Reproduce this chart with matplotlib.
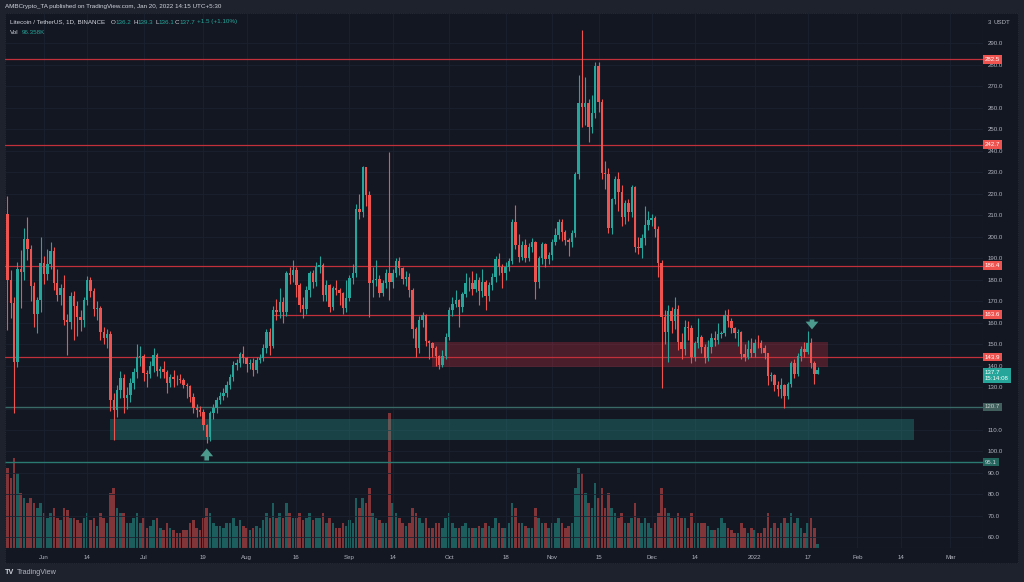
import numpy as np
import pandas as pd
import matplotlib
matplotlib.use('Agg')
import matplotlib.pyplot as plt
import matplotlib.transforms as mtransforms
from matplotlib.patches import Rectangle

# --- data (LTC/USDT daily, Binance) ---
start_date = pd.Timestamp('2021-05-21')
first_open = 210.4

closes = [
    179.7, 168.9, 141.8, 184.9, 183.6, 198.7, 194.0, 177.0, 163.9, 170.4,
    187.5, 182.8, 187.2, 193.2, 178.2, 172.8, 175.9, 161.4, 160.4, 172.3,
    167.8, 162.4, 161.4, 170.4, 179.7, 174.8, 166.3, 166.6, 155.7, 152.6,
    154.6, 123.9, 119.3, 128.6, 134.0, 124.7, 126.3, 131.7, 137.1, 143.8,
    144.5, 136.4, 136.0, 139.8, 144.9, 137.5, 138.3, 137.2, 131.7, 134.5,
    133.9, 133.6, 133.3, 131.0, 130.5, 125.5, 120.1, 119.3, 118.6, 112.4,
    106.9, 117.8, 120.1, 124.0, 125.8, 127.4, 131.0, 134.8, 140.3, 141.3,
    145.2, 143.4, 140.7, 141.0, 138.0, 142.6, 143.4, 148.0, 155.8, 149.1,
    166.0, 165.1, 169.7, 165.1, 182.9, 182.1, 184.4, 177.5, 168.2, 166.1,
    175.1, 183.2, 179.0, 186.0, 186.8, 172.8, 177.5, 167.4, 175.9, 175.1,
    173.6, 166.6, 171.3, 180.6, 182.9, 212.7, 211.6, 232.2, 219.3, 178.2,
    180.0, 180.3, 173.9, 178.2, 182.9, 179.0, 182.9, 188.8, 185.2, 180.1,
    181.0, 175.1, 156.8, 148.0, 161.1, 163.5, 151.5, 150.3, 148.0, 144.4,
    140.2, 144.4, 153.4, 165.8, 168.6, 170.4, 167.0, 173.2, 178.2, 178.5,
    175.4, 179.7, 174.8, 179.0, 172.3, 177.4, 181.0, 189.4, 185.6, 183.2,
    185.6, 188.7, 206.9, 196.0, 190.6, 196.0, 190.0, 195.2, 197.6, 179.0,
    189.8, 196.5, 189.4, 191.4, 197.6, 200.7, 206.9, 202.3, 198.4, 197.6,
    201.5, 229.1, 261.9, 260.1, 262.0, 251.1, 257.6, 279.3, 262.7, 229.7,
    229.1, 203.8, 217.3, 226.6, 220.9, 208.9, 215.7, 211.6, 222.9, 195.3,
    194.5, 199.1, 205.3, 207.7, 208.5, 203.3, 187.5, 162.5, 155.8, 165.5,
    160.5, 166.5, 151.1, 147.5, 158.0, 157.6, 144.1, 150.3, 153.4, 148.4,
    143.3, 148.4, 152.6, 152.1, 154.6, 154.9, 163.5, 160.8, 157.3, 155.2,
    155.7, 145.3, 144.1, 147.5, 145.6, 150.6, 150.3, 148.0, 145.6, 135.1,
    135.5, 130.9, 128.9, 130.9, 125.8, 131.4, 141.3, 136.0, 144.4, 147.5,
    146.4, 150.6, 141.0, 136.2, 137.7]

highs = [
    218.8, 184.4, 172.0, 188.0, 193.7, 203.8, 208.9, 196.0, 179.0, 172.0,
    200.0, 191.0, 194.0, 197.6, 195.0, 185.0, 178.0, 182.0, 164.0, 174.0,
    174.5, 170.0, 166.0, 172.0, 181.5, 181.0, 176.0, 170.0, 167.5, 158.0,
    157.0, 156.0, 127.0, 131.0, 137.5, 136.0, 130.0, 134.0, 139.0, 150.0,
    149.0, 145.5, 138.0, 142.0, 148.0, 146.0, 140.0, 142.0, 138.0, 136.0,
    138.0, 135.5, 136.0, 134.0, 132.0, 131.0, 127.0, 122.0, 121.0, 120.0,
    113.0, 119.0, 122.0, 125.5, 127.5, 129.5, 133.0, 136.0, 142.0, 143.0,
    146.5, 149.0, 144.0, 143.0, 143.5, 144.0, 145.5, 150.0, 157.0, 157.5,
    167.5, 171.0, 176.0, 172.0, 184.0, 186.0, 189.0, 186.0, 178.5, 172.0,
    177.0, 184.0, 184.5, 188.0, 191.0, 187.5, 180.0, 178.0, 177.0, 180.0,
    176.0, 174.0, 180.0, 182.0, 187.0, 215.0, 220.0, 233.0, 232.5, 221.0,
    186.0, 189.0, 182.0, 180.0, 185.0, 239.5, 185.0, 190.0, 190.5, 186.0,
    184.0, 183.0, 176.0, 158.0, 163.0, 165.0, 164.0, 152.0, 151.0, 149.0,
    145.0, 147.0, 155.0, 167.0, 172.0, 175.0, 171.0, 174.0, 183.0, 181.0,
    184.0, 183.0, 181.0, 185.0, 180.0, 179.0, 183.0, 191.0, 192.5, 187.0,
    188.0, 190.0, 208.0, 214.6, 201.0, 198.0, 199.0, 197.0, 199.5, 198.0,
    191.0, 197.5, 197.0, 193.0, 199.0, 204.0, 208.0, 208.0, 203.0, 199.5,
    203.0, 230.0, 275.0, 296.0, 274.0, 264.0, 266.0, 281.3, 281.0, 264.0,
    235.0, 232.0, 218.0, 228.0, 230.0, 224.0, 217.0, 217.5, 224.0, 223.5,
    200.0, 201.0, 214.0, 212.0, 210.5, 209.5, 205.0, 189.0, 166.0, 168.0,
    167.0, 172.0, 168.0, 155.0, 161.0, 160.5, 159.0, 151.5, 162.0, 154.0,
    150.0, 152.0, 155.0, 156.0, 160.0, 156.0, 166.0, 166.5, 162.0, 158.0,
    157.0, 156.0, 150.0, 152.0, 153.0, 152.5, 154.0, 152.0, 149.5, 146.0,
    137.0, 136.0, 133.0, 134.0, 131.5, 132.5, 142.0, 143.0, 146.0, 149.0,
    151.0, 156.0, 153.0, 142.0, 139.3]

lows = [
    156.5, 161.9, 117.7, 139.4, 166.6, 180.0, 189.0, 170.0, 158.0, 155.0,
    165.0, 178.0, 180.0, 185.0, 175.0, 170.0, 168.0, 159.0, 144.9, 157.0,
    151.8, 153.9, 156.0, 158.0, 168.0, 172.0, 163.0, 161.0, 152.0, 150.0,
    148.0, 119.0, 105.3, 116.0, 125.0, 118.0, 120.0, 123.0, 129.0, 134.0,
    140.0, 133.0, 130.0, 134.0, 137.0, 135.0, 134.0, 134.0, 127.0, 130.0,
    130.0, 131.0, 132.0, 129.5, 125.0, 123.0, 118.0, 116.0, 116.5, 110.0,
    103.8, 105.0, 115.0, 118.0, 122.0, 124.0, 125.5, 129.0, 133.0, 138.0,
    139.5, 141.0, 137.0, 138.5, 135.0, 136.5, 141.0, 142.0, 146.0, 145.0,
    148.0, 161.0, 162.0, 160.0, 163.0, 178.0, 179.0, 172.0, 165.0, 162.0,
    164.0, 172.0, 176.0, 177.0, 183.0, 170.0, 170.0, 165.0, 166.0, 173.0,
    168.0, 164.0, 165.0, 170.0, 178.0, 181.0, 208.0, 209.0, 214.0, 162.5,
    172.0, 177.0, 172.0, 172.5, 176.0, 170.5, 176.0, 181.0, 182.0, 178.0,
    177.0, 172.0, 153.0, 144.0, 146.0, 158.0, 149.0, 143.0, 144.0, 140.0,
    138.5, 139.5, 143.0, 152.0, 163.0, 167.0, 158.0, 165.0, 172.0, 174.5,
    173.0, 174.0, 168.0, 172.0, 166.0, 170.0, 175.0, 179.0, 182.0, 176.0,
    180.0, 184.0, 187.0, 194.0, 188.0, 189.0, 188.0, 188.5, 193.0, 171.0,
    176.0, 187.0, 186.0, 187.0, 189.0, 196.0, 199.0, 198.0, 196.0, 191.0,
    195.0, 200.0, 227.0, 251.0, 252.0, 244.0, 248.0, 255.0, 258.0, 227.0,
    222.0, 201.5, 201.0, 215.0, 212.0, 205.0, 206.0, 207.0, 209.0, 193.0,
    192.0, 190.0, 196.0, 203.0, 205.0, 200.0, 181.0, 129.5, 150.0, 141.8,
    155.0, 157.0, 147.0, 143.0, 145.0, 152.0, 141.0, 142.0, 148.0, 146.0,
    141.0, 142.0, 146.0, 149.0, 150.0, 153.0, 153.5, 158.0, 155.0, 153.0,
    149.0, 143.0, 142.0, 143.0, 144.0, 144.0, 148.0, 146.0, 143.0, 131.0,
    133.0, 128.0, 126.0, 125.0, 120.2, 124.5, 130.0, 134.0, 135.0, 142.0,
    144.0, 145.5, 139.0, 131.5, 136.1]

# volume in thousands of LTC
volume_k = [
    1920, 1680, 2160, 1800, 1320, 1200, 1080, 1200, 1080, 960,
    1080, 840, 720, 840, 960, 720, 670, 960, 910, 720,
    720, 670, 600, 720, 840, 670, 720, 530, 840, 720,
    600, 1320, 1440, 960, 840, 840, 600, 600, 720, 840,
    600, 720, 480, 530, 670, 720, 480, 430, 600, 480,
    430, 360, 360, 430, 430, 600, 670, 480, 430, 720,
    960, 840, 600, 530, 530, 480, 600, 600, 720, 530,
    670, 530, 480, 430, 480, 530, 480, 670, 840, 720,
    1080, 720, 840, 720, 1080, 840, 720, 720, 840, 670,
    720, 840, 670, 720, 720, 840, 600, 720, 600, 480,
    480, 600, 530, 670, 600, 1200, 960, 1200, 1080, 1440,
    840, 720, 670, 600, 600, 3240, 1080, 840, 720, 600,
    530, 600, 960, 840, 720, 600, 720, 480, 480, 600,
    600, 480, 720, 840, 600, 480, 480, 530, 600, 480,
    480, 480, 530, 480, 600, 530, 480, 720, 600, 480,
    480, 600, 1080, 960, 600, 600, 530, 480, 480, 960,
    720, 600, 600, 480, 600, 600, 720, 600, 480, 530,
    600, 1440, 1920, 1800, 1320, 1080, 960, 1560, 1200, 1440,
    960, 1320, 960, 840, 720, 840, 600, 600, 720, 1080,
    720, 600, 720, 600, 480, 600, 840, 1440, 960, 840,
    720, 720, 840, 720, 720, 480, 840, 600, 600, 600,
    600, 530, 430, 430, 480, 720, 600, 480, 430, 360,
    360, 600, 480, 360, 480, 430, 360, 360, 480, 840,
    480, 600, 480, 600, 720, 600, 840, 600, 720, 480,
    360, 600, 720, 480, 96]

# horizontal levels drawn on the chart: (price, first date)
red_levels = [282.5, 242.7, 186.4, 163.6, 143.9]
red_level_start = ['2021-05-20', '2021-05-20', '2021-05-20', '2021-08-09', '2021-05-20']
support_levels = [120.7, 95.1]

# zones: (start, end, low, high)
supply_zone = ('2021-09-26', '2022-01-23', 139.3, 150.9)
demand_zone = ('2021-06-21', '2022-02-18', 105.3, 115.1)

tick_dates = ['2021-06-01', '2021-06-14', '2021-07-01', '2021-07-19', '2021-08-01',
              '2021-08-16', '2021-09-01', '2021-09-14', '2021-10-01', '2021-10-18',
              '2021-11-01', '2021-11-15', '2021-12-01', '2021-12-14', '2022-01-01',
              '2022-01-17', '2022-02-01', '2022-02-14', '2022-03-01']
tick_labels = ['Jun', '14', 'Jul', '19', 'Aug', '16', 'Sep', '14', 'Oct', '18',
               'Nov', '15', 'Dec', '14', '2022', '17', 'Feb', '14', 'Mar']


def day(d):
    return (pd.Timestamp(d) - start_date).days


UP = '#26a69a'
DOWN = '#ef5350'
BG = '#131722'
TXT = '#b2b5be'
plt.rcParams['font.family'] = ['Liberation Sans', 'DejaVu Sans']

W, H = 1024, 582
fig = plt.figure(figsize=(W / 100, H / 100), dpi=100, facecolor='#1e222d')
# chart card behind everything
card = Rectangle((5 / W, (H - 563) / H), 1013 / W, 550 / H, transform=fig.transFigure,
                 fc=BG, ec='#2a2e39', lw=0.6, ls=':', zorder=-10)
fig.patches.append(card)

ax = fig.add_axes([5 / W, (H - 548) / H, 978 / W, 535 / H])
ax2 = ax.twinx()
ax.set_zorder(ax2.get_zorder() + 1)
ax.patch.set_visible(False)

x = np.arange(len(closes))
c = np.array(closes)
o = np.array([first_open] + closes[:-1])
h = np.maximum(np.array(highs), np.maximum(o, c))
l = np.minimum(np.array(lows), np.minimum(o, c))
up = c >= o
cols = np.where(up, UP, DOWN)

# volume on the twin axis
vcols = [(0.149, 0.651, 0.604, 0.5) if u else (0.937, 0.325, 0.314, 0.5) for u in up]
ax2.bar(x, volume_k, width=0.78, color=vcols, linewidth=0)
ax2.set_ylim(0, 12860)
ax2.set_yticks([])
for s in ax2.spines.values():
    s.set_visible(False)

# zones
s0, e0, lo0, hi0 = supply_zone
ax.add_patch(Rectangle((day(s0), lo0), day(e0) - day(s0), hi0 - lo0,
                       fc='#f23645', alpha=0.25, lw=0, zorder=1))
s1, e1, lo1, hi1 = demand_zone
ax.add_patch(Rectangle((day(s1), lo1), day(e1) - day(s1), hi1 - lo1,
                       fc='#26a69a', alpha=0.3, lw=0, zorder=1))

xmin, xmax = -0.75, 293.8
for lvl, st in zip(red_levels, red_level_start):
    ax.hlines(lvl, day(st), xmax, color='#c2303c', lw=0.9, zorder=2)
ax.hlines(support_levels[0], xmin, xmax, color='#3a6a68', lw=1.0, zorder=2)
ax.hlines(support_levels[1], xmin, xmax, color='#2b7a72', lw=1.0, zorder=2)

# candles
ax.vlines(x, l, h, colors=cols, linewidth=0.8, zorder=3)
ax.bar(x, np.maximum(np.abs(c - o), 0.35), bottom=np.minimum(o, c), width=0.72,
       color=cols, linewidth=0, zorder=4)

# arrows (stem + head)
arrow_props = dict(arrowstyle='simple,head_width=1.15,head_length=0.7,tail_width=0.42',
                   fc='#4c9a8e', ec='none', mutation_scale=8, shrinkA=0, shrinkB=0)
ax.annotate('', xy=(day('2021-07-20'), 101.4), xytext=(day('2021-07-20'), 95.8),
            arrowprops=arrow_props, zorder=5)
ax.annotate('', xy=(day('2022-01-18') + 0.3, 156.8), xytext=(day('2022-01-18') + 0.3, 161.4),
            arrowprops=arrow_props, zorder=5)

ax.set_xlim(xmin, xmax)
ax.set_ylim(55.1, 304.0)

# axes, ticks, grid
ax.yaxis.tick_right()
yt = np.arange(60, 300, 10)
ax.set_yticks(yt)
# 120.0 sits fully under the 120.7 tag
ax.set_yticklabels(['' if v == 120 else '%.1f' % v for v in yt])
ax.set_xticks([day(d) for d in tick_dates])
ax.set_xticklabels(tick_labels)
ax.tick_params(axis='both', length=0, labelsize=4.4, colors=TXT)
ax.tick_params(axis='y', pad=3.6)
ax.tick_params(axis='x', pad=5.0)
ax.grid(color='#1c2130', lw=0.6)
ax.set_axisbelow(True)
for s in ax.spines.values():
    s.set_visible(False)
ax.axvline(xmax, color='#2a2e39', lw=0.8)
ax.axhline(55.1, color='#2a2e39', lw=0.8)

# price tags on the right scale
blend = mtransforms.blended_transform_factory(ax.transAxes, ax.transData)
for lvl in red_levels:
    ax.text(1.002, lvl, '%.1f' % lvl, transform=blend, fontsize=4.4, color='white',
            va='center', ha='left', clip_on=False, zorder=10,
            bbox=dict(boxstyle='square,pad=0.3', fc='#ef5350', ec='none'))
ax.text(1.002, 137.7, '137.7\n15:14:08', transform=blend, fontsize=4.4, color='white',
        va='top', ha='left', clip_on=False, zorder=10, linespacing=1.2,
        bbox=dict(boxstyle='square,pad=0.35', fc='#26a69a', ec='none'))
ax.text(1.002, support_levels[0], '%.1f' % support_levels[0], transform=blend, fontsize=4.4,
        color='#c8d0cf', va='center', ha='left', clip_on=False, zorder=10,
        bbox=dict(boxstyle='square,pad=0.3', fc='#41605d', ec='none'))
ax.text(1.002, support_levels[1], '%.1f' % support_levels[1], transform=blend, fontsize=4.4,
        color='#d1d4dc', va='center', ha='left', clip_on=False, zorder=10,
        bbox=dict(boxstyle='square,pad=0.3', fc='#23675f', ec='none'))


def ftxt(px, py, s, color='#d1d4dc', size=4.5, **kw):
    fig.text(px / W, 1 - py / H, s, color=color, fontsize=size, va='center', ha='left', **kw)


ftxt(5, 6.5, 'AMBCrypto_TA published on TradingView.com, Jan 20, 2022 14:15 UTC+5:30')
ftxt(10, 22, 'Litecoin / TetherUS, 1D, BINANCE')
ftxt(111, 22, 'O')
ftxt(115, 22, '136.2', color=UP)
ftxt(133, 22, 'H')
ftxt(137, 22, '139.3', color=UP)
ftxt(155, 22, 'L')
ftxt(158, 22, '136.1', color=UP)
ftxt(175, 22, 'C')
ftxt(179, 22, '137.7', color=UP)
ftxt(197, 22, '+1.5 (+1.10%)', color=UP)
ftxt(10, 32, 'Vol')
ftxt(22, 32, '96.358K', color=UP)
ftxt(988, 22, '3', color=TXT, size=4.2)
ftxt(993, 22, 'USDT', color=TXT, size=4.4)
ftxt(5, 572, 'TV', color='#d1d4dc', size=5.2, fontweight='bold')
ftxt(17, 572, 'TradingView', color='#b2b5be', size=5.2)

fig.savefig('out.png', dpi=100, facecolor=fig.get_facecolor())
